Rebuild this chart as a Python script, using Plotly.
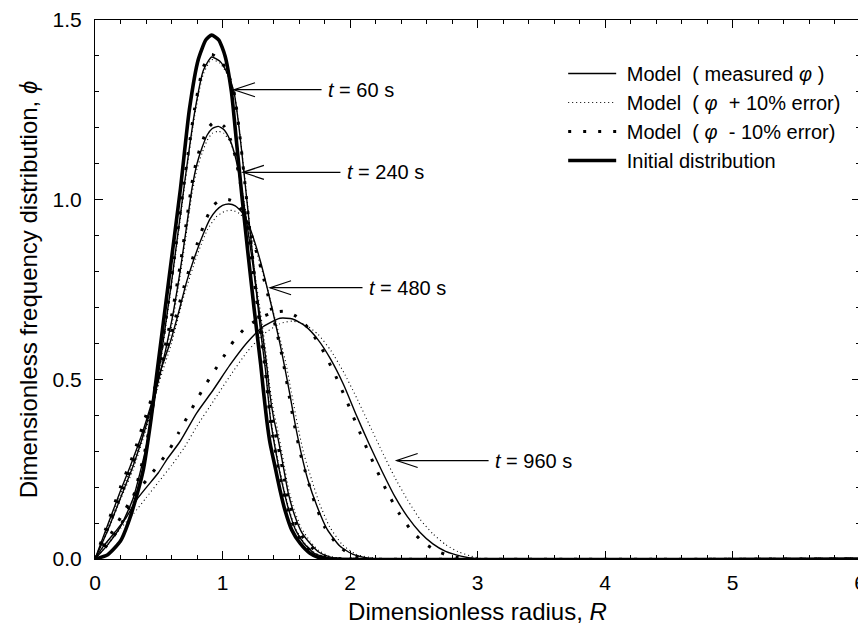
import plotly.graph_objects as go

# ---------------- data ----------------
# Initial distribution
ic_R = [0, 0.1, 0.2, 0.26, 0.33, 0.38, 0.44, 0.49, 0.58, 0.67, 0.74, 0.81, 0.87, 0.915, 0.97, 1.02,
        1.07, 1.11, 1.155, 1.2, 1.25, 1.30, 1.32, 1.347, 1.373, 1.412, 1.451, 1.49, 1.543, 1.608,
        1.686, 1.765, 1.85, 6.0]
ic_phi = [0, 0.012, 0.05, 0.10, 0.18, 0.25, 0.39, 0.53, 0.78, 1.03, 1.25, 1.39, 1.445, 1.458, 1.445,
          1.40, 1.30, 1.16, 1.0, 0.85, 0.69, 0.54, 0.471, 0.387, 0.322, 0.257, 0.192, 0.136, 0.081,
          0.044, 0.016, 0.003, 0, 0]

# t = 60 s
t60_R = [0, 0.1, 0.2, 0.3, 0.4, 0.5, 0.6, 0.7, 0.78, 0.85, 0.915, 0.98, 1.04, 1.09, 1.13, 1.17, 1.22,
         1.27, 1.30, 1.337, 1.377, 1.44, 1.48, 1.52, 1.573, 1.638, 1.72, 1.82, 1.95, 6.0]
t60_phi = [0, 0.04, 0.09, 0.17, 0.31, 0.52, 0.77, 1.04, 1.24, 1.36, 1.397, 1.385, 1.35, 1.30, 1.20,
           1.07, 0.90, 0.73, 0.63, 0.526, 0.387, 0.257, 0.192, 0.136, 0.081, 0.044, 0.016, 0.003, 0, 0]
t60_phi_plus = [0, 0.039, 0.088, 0.167, 0.305, 0.513, 0.762, 1.03, 1.23, 1.35, 1.39, 1.38, 1.347,
                1.30, 1.203, 1.075, 0.907, 0.738, 0.638, 0.534, 0.395, 0.264, 0.198, 0.141, 0.085,
                0.047, 0.018, 0.004, 0, 0]
t60_phi_minus = [0, 0.041, 0.092, 0.173, 0.315, 0.527, 0.778, 1.05, 1.25, 1.37, 1.404, 1.39, 1.353,
                 1.30, 1.197, 1.065, 0.893, 0.722, 0.622, 0.518, 0.379, 0.25, 0.186, 0.131, 0.077,
                 0.041, 0.014, 0.002, 0, 0]

# t = 240 s
t240_R = [0, 0.1, 0.2, 0.3, 0.4, 0.5, 0.6, 0.667, 0.72, 0.76, 0.80, 0.84, 0.88, 0.92, 0.967, 1.01,
          1.06, 1.10, 1.14, 1.18, 1.23, 1.28, 1.32, 1.351, 1.367, 1.399, 1.438, 1.477, 1.516, 1.569,
          1.62, 1.686, 1.76, 1.84, 1.95, 6.0]
t240_phi = [0, 0.08, 0.17, 0.26, 0.37, 0.50, 0.66, 0.80, 0.93, 1.03, 1.10, 1.145, 1.18, 1.198, 1.204,
            1.195, 1.165, 1.12, 1.05, 0.96, 0.84, 0.71, 0.61, 0.526, 0.471, 0.396, 0.331, 0.257,
            0.183, 0.118, 0.075, 0.044, 0.018, 0.006, 0, 0]
t240_phi_plus = [0, 0.078, 0.165, 0.25, 0.36, 0.49, 0.645, 0.785, 0.915, 1.015, 1.085, 1.13, 1.165,
                 1.185, 1.19, 1.185, 1.16, 1.12, 1.055, 0.97, 0.855, 0.73, 0.63, 0.545, 0.49, 0.415,
                 0.35, 0.275, 0.198, 0.13, 0.085, 0.05, 0.022, 0.008, 0, 0]
t240_phi_minus = [0, 0.085, 0.175, 0.27, 0.385, 0.515, 0.675, 0.815, 0.945, 1.045, 1.115, 1.16,
                  1.195, 1.212, 1.215, 1.205, 1.17, 1.12, 1.045, 0.95, 0.825, 0.69, 0.59, 0.505,
                  0.45, 0.375, 0.31, 0.238, 0.167, 0.105, 0.065, 0.037, 0.014, 0.004, 0, 0]

# t = 480 s
t480_R = [0, 0.1, 0.2, 0.275, 0.366, 0.444, 0.52, 0.588, 0.654, 0.719, 0.797, 0.85, 0.9, 0.95, 1.0,
          1.05, 1.10, 1.16, 1.20, 1.25, 1.30, 1.35, 1.40, 1.45, 1.49, 1.53, 1.57, 1.62, 1.67, 1.74,
          1.82, 1.92, 2.03, 2.2, 6.0]
t480_phi = [0, 0.095, 0.19, 0.257, 0.345, 0.434, 0.53, 0.601, 0.684, 0.772, 0.856, 0.905, 0.945,
            0.97, 0.984, 0.988, 0.983, 0.962, 0.935, 0.885, 0.825, 0.755, 0.68, 0.60, 0.53, 0.455,
            0.375, 0.29, 0.22, 0.148, 0.083, 0.036, 0.012, 0, 0]
t480m_R = [0, 0.1, 0.2, 0.3, 0.4, 0.5, 0.6, 0.7, 0.8, 0.87, 0.93, 0.99, 1.05, 1.11, 1.17, 1.22, 1.27,
           1.32, 1.37, 1.42, 1.47, 1.51, 1.56, 1.61, 1.66, 1.72, 1.8, 1.9, 2.0, 2.15, 6.0]
t480m_phi = [0, 0.10, 0.20, 0.29, 0.40, 0.51, 0.63, 0.76, 0.875, 0.945, 0.985, 1.0, 1.0, 0.99, 0.96,
             0.91, 0.85, 0.785, 0.715, 0.64, 0.56, 0.48, 0.38, 0.295, 0.23, 0.16, 0.09, 0.04, 0.013,
             0, 0]
t480p_R = [0, 0.1, 0.2, 0.3, 0.4, 0.5, 0.6, 0.7, 0.8, 0.88, 0.95, 1.02, 1.08, 1.14, 1.2, 1.25, 1.3,
           1.35, 1.4, 1.45, 1.5, 1.54, 1.59, 1.64, 1.7, 1.76, 1.84, 1.94, 2.05, 2.25, 6.0]
t480p_phi = [0, 0.09, 0.18, 0.27, 0.375, 0.49, 0.6, 0.735, 0.845, 0.915, 0.952, 0.968, 0.97, 0.96,
             0.925, 0.875, 0.815, 0.755, 0.685, 0.615, 0.54, 0.465, 0.37, 0.29, 0.22, 0.155, 0.09,
             0.04, 0.013, 0, 0]

# t = 960 s
t960_R = [0, 0.065, 0.157, 0.235, 0.327, 0.405, 0.497, 0.562, 0.667, 0.797, 0.928, 1.059, 1.19, 1.32,
          1.451, 1.55, 1.65, 1.75, 1.85, 1.95, 2.05, 2.15, 2.25, 2.35, 2.45, 2.55, 2.65, 2.75, 2.87,
          3.0, 6.0]
t960_phi = [0, 0.035, 0.075, 0.11, 0.165, 0.2, 0.24, 0.276, 0.327, 0.406, 0.471, 0.54, 0.601, 0.647,
            0.670, 0.668, 0.648, 0.61, 0.555, 0.485, 0.40, 0.32, 0.245, 0.175, 0.118, 0.074, 0.042,
            0.021, 0.008, 0, 0]
t960m_R = [0, 0.1, 0.2, 0.3, 0.405, 0.497, 0.583, 0.654, 0.719, 0.784, 0.855, 0.928, 1.007, 1.09,
           1.18, 1.3, 1.4, 1.49, 1.58, 1.68, 1.78, 1.88, 1.98, 2.08, 2.18, 2.28, 2.38, 2.48, 2.58,
           2.68, 2.8, 2.95, 6.0]
t960m_phi = [0, 0.055, 0.115, 0.175, 0.22, 0.262, 0.304, 0.35, 0.392, 0.434, 0.478, 0.519, 0.562,
             0.608, 0.643, 0.672, 0.686, 0.689, 0.675, 0.64, 0.585, 0.515, 0.435, 0.35, 0.27, 0.195,
             0.13, 0.08, 0.045, 0.022, 0.007, 0, 0]
t960p_R = [0, 0.1, 0.2, 0.3, 0.4, 0.5, 0.6, 0.7, 0.8, 0.93, 1.06, 1.19, 1.32, 1.45, 1.55, 1.65, 1.75,
           1.85, 1.95, 2.05, 2.15, 2.25, 2.35, 2.45, 2.55, 2.65, 2.75, 2.85, 2.95, 3.05, 6.0]
t960p_phi = [0, 0.045, 0.085, 0.125, 0.17, 0.215, 0.26, 0.31, 0.37, 0.44, 0.51, 0.575, 0.625, 0.655,
             0.662, 0.652, 0.625, 0.58, 0.52, 0.45, 0.375, 0.3, 0.228, 0.165, 0.11, 0.07, 0.04,
             0.02, 0.008, 0, 0]

# annotations: time labels with arrows
label_text = ["<i>t</i> = 60 s", "<i>t</i> = 240 s", "<i>t</i> = 480 s", "<i>t</i> = 960 s"]
arrow_tip_R = [1.09, 1.16, 1.373, 2.366]
arrow_tip_phi = [1.306, 1.076, 0.755, 0.274]
label_R = [1.812, 1.96, 2.133, 3.122]

NB = "\u00a0"
legend_names = [NB + "Model  ( measured <i>φ</i> )", NB + "Model  ( <i>φ</i>  + 10% error)",
                NB + "Model  ( <i>φ</i>  - 10% error)", NB + "Initial distribution"]

# ---------------- figure ----------------
BLACK = "#000000"
FONT = "Liberation Sans, Arial"
solid_style = dict(color=BLACK, width=1.4)
plus_style = dict(color=BLACK, width=1.1, dash="1px,3px")
minus_style = dict(color=BLACK, width=3, dash="3px,12px")
ic_style = dict(color=BLACK, width=3.6)

fig = go.Figure()
SPL = dict(shape="spline", smoothing=0.55)

groups = [
    (t60_R, t60_phi, t60_R, t60_phi_plus, t60_R, t60_phi_minus),
    (t240_R, t240_phi, t240_R, t240_phi_plus, t240_R, t240_phi_minus),
    (t480_R, t480_phi, t480p_R, t480p_phi, t480m_R, t480m_phi),
    (t960_R, t960_phi, t960p_R, t960p_phi, t960m_R, t960m_phi),
]

for i, (rs, ps, rp, pp, rm, pm) in enumerate(groups):
    first = i == 0
    fig.add_trace(go.Scatter(x=rp, y=pp, mode="lines", line=dict(**plus_style, **SPL),
                             name=legend_names[1], legendgroup="b", showlegend=first,
                             legendrank=2))
    fig.add_trace(go.Scatter(x=rm, y=pm, mode="lines", line=dict(**minus_style, **SPL),
                             name=legend_names[2], legendgroup="c", showlegend=first,
                             legendrank=3))
    fig.add_trace(go.Scatter(x=rs, y=ps, mode="lines", line=dict(**solid_style, **SPL),
                             name=legend_names[0], legendgroup="a", showlegend=first,
                             legendrank=1))

fig.add_trace(go.Scatter(x=ic_R, y=ic_phi, mode="lines", line=dict(**ic_style, **SPL),
                         name=legend_names[3], legendgroup="d", legendrank=4))

# arrows (line + open head) and labels
for txt, tr, tp, lr in zip(label_text, arrow_tip_R, arrow_tip_phi, label_R):
    fig.add_shape(type="line", xref="x", yref="y", x0=tr, y0=tp, x1=lr - 0.035, y1=tp,
                  line=dict(color=BLACK, width=1.2))
    fig.add_shape(type="path", xref="x", yref="y", xsizemode="pixel", ysizemode="pixel",
                  xanchor=tr, yanchor=tp, path="M 21,7 L 0,0 L 21,-7",
                  line=dict(color=BLACK, width=1.2))
    fig.add_annotation(x=lr, y=tp, xref="x", yref="y", text=txt, showarrow=False,
                       xanchor="left", yanchor="middle",
                       font=dict(family=FONT, size=20, color=BLACK))

axis_common = dict(
    showline=True, linecolor=BLACK, linewidth=1.2, mirror="allticks",
    ticks="inside", ticklen=8, tickwidth=1.2, tickcolor=BLACK,
    showgrid=False, zeroline=False, automargin=False, ticklabeloverflow="allow",
    tickfont=dict(family=FONT, size=21, color=BLACK),
)

fig.update_xaxes(range=[0, 6], dtick=1, tick0=0,
                 minor=dict(dtick=0.2, ticks="inside", ticklen=4, tickcolor=BLACK, tickwidth=1),
                 title=dict(text="Dimensionless radius, <i>R</i>",
                            font=dict(family=FONT, size=24, color=BLACK),
                            standoff=9),
                 ticklabelstandoff=5,
                 **axis_common)
fig.update_yaxes(range=[0, 1.5], dtick=0.5, tick0=0, tickformat=".1f",
                 minor=dict(dtick=0.1, ticks="inside", ticklen=4, tickcolor=BLACK, tickwidth=1),
                 title=dict(text="Dimensionless frequency distribution, <i>ϕ</i>",
                            font=dict(family=FONT, size=24, color=BLACK),
                            standoff=8),
                 ticklabelstandoff=8,
                 **axis_common)

# the page adds an 8px body margin, so the figure is sized to fit the window
fig.update_layout(
    width=858, height=630,
    margin=dict(l=87, r=6, t=12, b=79, autoexpand=False),
    paper_bgcolor="white", plot_bgcolor="white",
    font=dict(family=FONT, color=BLACK),
    showlegend=True,
    legend=dict(x=0.612, y=0.937, xanchor="left", yanchor="top",
                bgcolor="rgba(0,0,0,0)", borderwidth=0,
                font=dict(family=FONT, size=20, color=BLACK),
                traceorder="grouped", tracegroupgap=0, itemwidth=48),
)

fig.write_html("out.html")
